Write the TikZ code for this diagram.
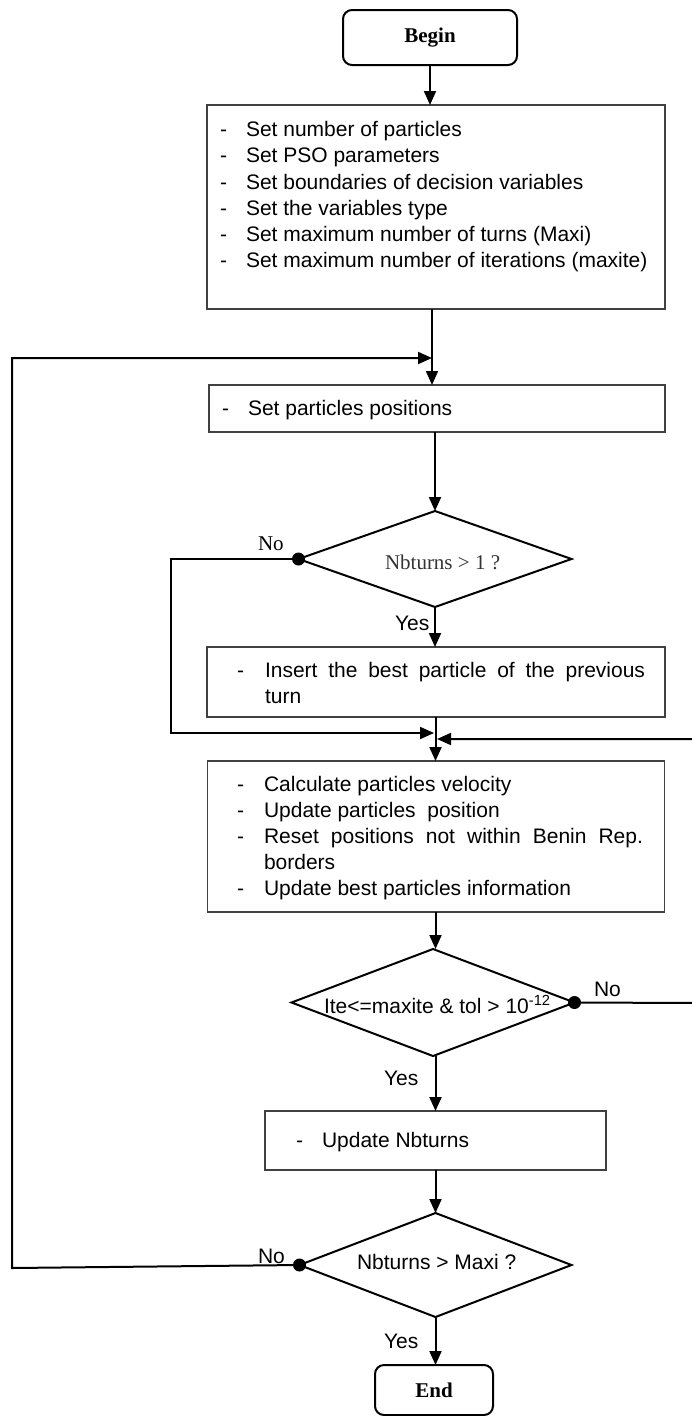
\documentclass[tikz,border=0pt]{standalone}
\usepackage{fontspec}
\setmainfont{Liberation Sans}
\newfontfamily\serifrm{Liberation Serif}
\usetikzlibrary{shapes.geometric,arrows.meta}
\begin{document}
\begin{tikzpicture}[x=1pt,y=-1pt]
\tikzset{
  every node/.style={inner sep=0pt,outer sep=0pt,font=\fontsize{21pt}{26pt}\selectfont},
  procbox/.style={draw=black!75,line width=1.3pt,rectangle},
  termbox/.style={draw=black,line width=2pt,rectangle,rounded corners=9pt,
    font=\serifrm\bfseries\fontsize{21pt}{26pt}\selectfont},
  decision/.style={diamond,draw=black,line width=2pt,aspect=1},
  arr/.style={line width=2pt,-{Triangle[length=14pt,width=12pt]}},
  conn/.style={line width=2pt},
  dot/.style={circle,fill=black,minimum size=13pt},
  txt/.style={anchor=base west},
  serlbl/.style={anchor=base west,font=\serifrm\fontsize{21pt}{26pt}\selectfont},
}
\useasboundingbox (0,0) rectangle (692,1416);

% ---------- nodes ----------
\node[termbox,minimum width=174pt,minimum height=55pt] (begin) at (430,37.5) {Begin};

\node[procbox,minimum width=458pt,minimum height=204pt] (box1) at (436,207) {};
\node[txt] (b1d1) at (220,136) {-};
\node[txt] (b1t1) at (246,136) {Set number of particles};
\node[txt] (b1d2) at (220,162) {-};
\node[txt] (b1t2) at (246,162) {Set PSO parameters};
\node[txt] (b1d3) at (220,189) {-};
\node[txt] (b1t3) at (246,189) {Set boundaries of decision variables};
\node[txt] (b1d4) at (220,215) {-};
\node[txt] (b1t4) at (246,215) {Set the variables type};
\node[txt] (b1d5) at (220,241) {-};
\node[txt] (b1t5) at (246,241) {Set maximum number of turns (Maxi)};
\node[txt] (b1d6) at (220,267) {-};
\node[txt] (b1t6) at (246,267) {Set maximum number of iterations (maxite)};

\node[procbox,minimum width=456pt,minimum height=47pt] (box2) at (437,408.5) {};
\node[txt] (b2d1) at (222,415) {-};
\node[txt] (b2t1) at (248,415) {Set particles positions};

\node[decision,minimum width=273pt,minimum height=96pt] (d1) at (435,559) {};
\node[serlbl,text=black!80] (d1t) at (385,569) {Nbturns > 1 ?};

\node[procbox,minimum width=458pt,minimum height=70pt] (box3) at (436,682) {};
\node[txt] (b3d1) at (237,677) {-};
\node[txt] (b3t1) at (265,677) {\makebox[380pt][s]{Insert the best particle of the previous}};
\node[txt] (b3t2) at (265,703) {turn};

\node[procbox,minimum width=457pt,minimum height=151pt] (box4) at (436,836.5) {};
\node[txt] (b4d1) at (237,791) {-};
\node[txt] (b4t1) at (264,791) {Calculate particles velocity};
\node[txt] (b4d2) at (237,817) {-};
\node[txt] (b4t2) at (264,817) {Update particles\ \ position};
\node[txt] (b4d3) at (237,843) {-};
\node[txt] (b4t3) at (264,843) {\makebox[379pt][s]{Reset positions not within Benin Rep.}};
\node[txt] (b4t4) at (264,869) {borders};
\node[txt] (b4d5) at (237,895) {-};
\node[txt] (b4t5) at (264,895) {Update best particles information};

\node[decision,minimum width=283pt,minimum height=107pt] (d2) at (433,1002.5) {};
\node[txt] (d2t) at (324,1013) {Ite<=maxite \& tol > 10\textsuperscript{-12}};

\node[procbox,minimum width=341pt,minimum height=59pt] (box5) at (435.5,1140.5) {};
\node[txt] (b5d1) at (296,1147) {-};
\node[txt] (b5t1) at (322,1147) {Update Nbturns};

\node[decision,minimum width=272pt,minimum height=104pt] (d3) at (435.5,1265) {};
\node[txt] (d3t) at (357,1269) {Nbturns > Maxi ?};

\node[termbox,minimum width=118pt,minimum height=50pt] (end) at (434,1390) {End};

% dots
\node[dot] (dot1) at (d1.west) {};
\node[dot] (dot2) at (d2.east) {};
\node[dot] (dot3) at (d3.west) {};

% labels
\node[serlbl] (no1) at (258,550) {No};
\node[txt] (yes1) at (395,630) {Yes};
\node[txt] (no2) at (594,996) {No};
\node[txt] (yes2) at (384,1085) {Yes};
\node[txt] (no3) at (258,1263) {No};
\node[txt] (yes3) at (384,1348) {Yes};

% ---------- coordinates ----------
\coordinate (j1) at (432,358);
\coordinate (l1) at (12,1268);
\coordinate (l2) at (12,358);
\coordinate (n1a) at (171,559);
\coordinate (n1b) at (171,733);
\coordinate (j2) at (434,733);
\coordinate (r1) at (697,1003);
\coordinate (r2) at (697,739);
\coordinate (j3) at (437,739);
\coordinate (c3) at (435.5,0);

% ---------- connectors ----------
\draw[arr] (begin.south) -- (begin.south |- box1.north);
\draw[arr] (box1.south -| j1) -- (box2.north -| j1);
\draw[arr] (dot3.center) -- (l1) -- (l2) -- (j1);
\draw[arr] (box2.south -| d1.north) -- (d1.north);
\draw[arr] (d1.south) -- (d1.south |- box3.north);
\draw[arr] (dot1.center) -- (n1a) -- (n1b) -- (j2);
\draw[arr] (box3.south -| c3) -- (box4.north -| c3);
\draw[arr] (dot2.center) -- (r1) -- (r2) -- (j3);
\draw[arr] (box4.south -| c3) -- (c3 |- d2.north);
\draw[arr] (d2.south -| c3) -- (box5.north -| c3);
\draw[arr] (box5.south -| d3.north) -- (d3.north);
\draw[arr] (d3.south) -- (d3.south |- end.north);
\end{tikzpicture}
\end{document}
